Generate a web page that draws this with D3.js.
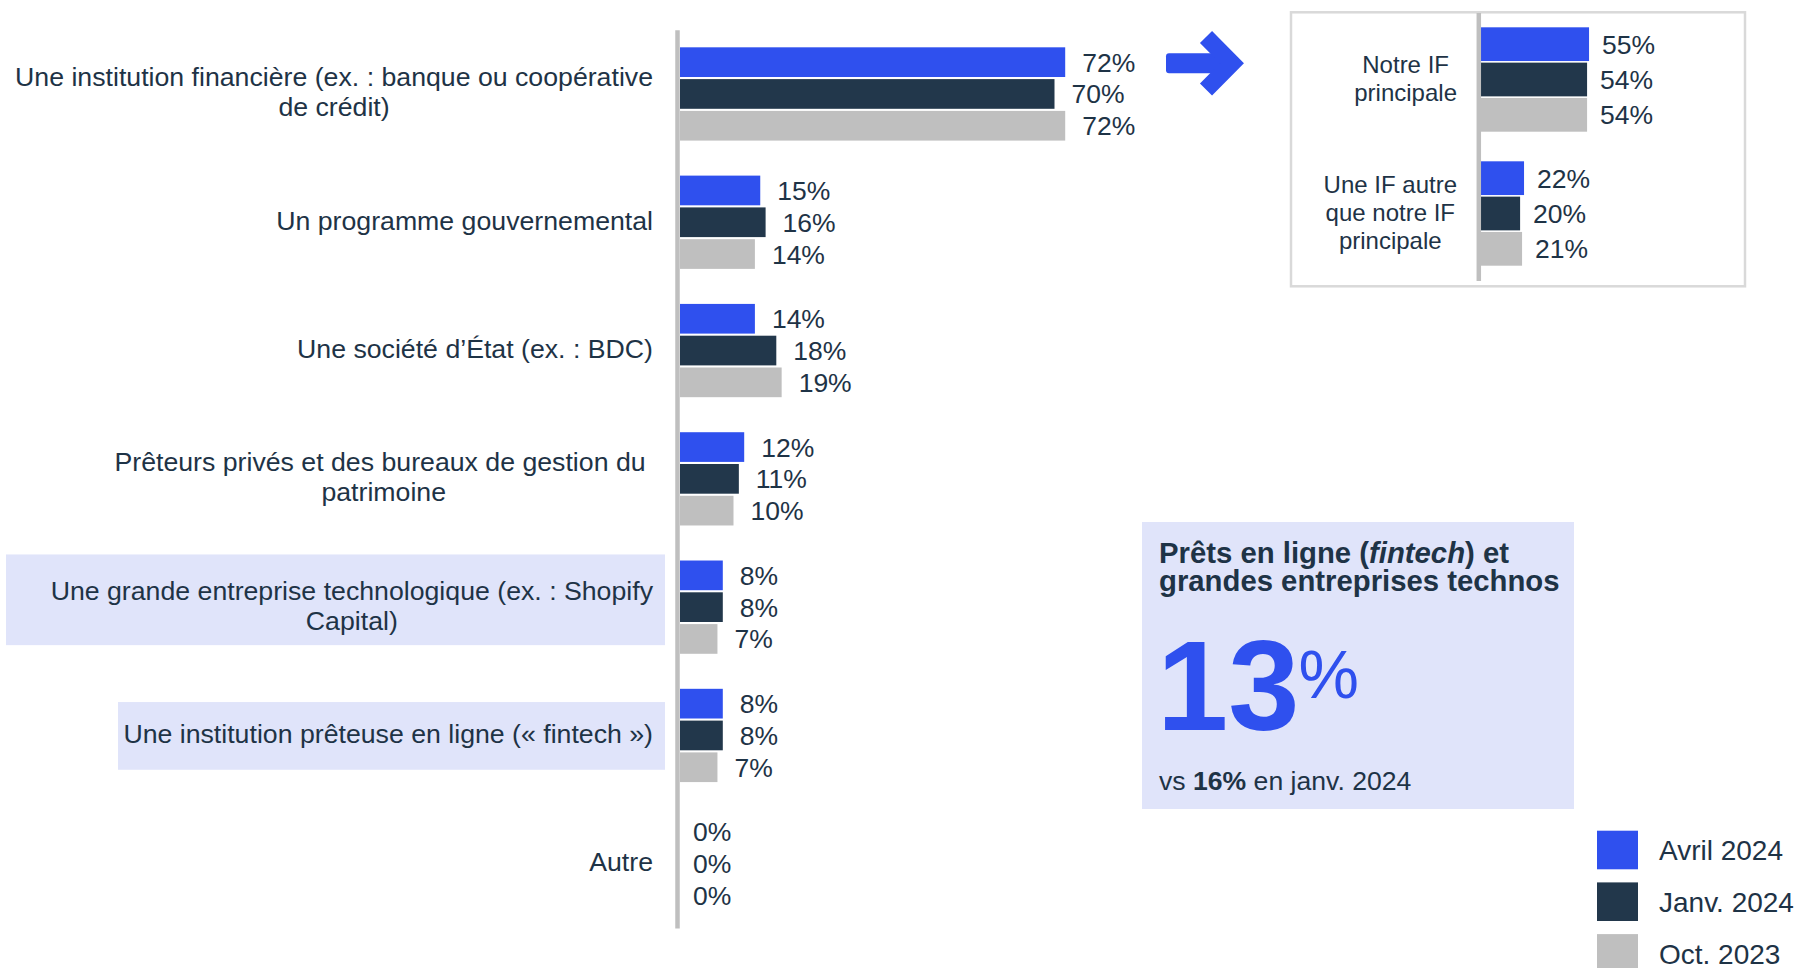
<!DOCTYPE html>
<html>
<head>
<meta charset="utf-8">
<script src="https://cdn.jsdelivr.net/npm/d3@7"></script>
<style>
  body { margin: 0; background: #fff; }
  svg { display: block; font-family: "Liberation Sans", Arial, sans-serif; }
  svg text { white-space: pre; }
</style>
</head>
<body>
<div id="chart"></div>
<script>
// data
const categories = [
  ["Une institution financière (ex. : banque ou coopérative", "de crédit)"],
  ["Un programme gouvernemental"],
  ["Une société d’État (ex. : BDC)"],
  ["Prêteurs privés et des bureaux de gestion du ", "patrimoine"],
  ["Une grande entreprise technologique (ex. : Shopify", "Capital)"],
  ["Une institution prêteuse en ligne (« fintech »)"],
  ["Autre"]
];
const seriesNames = ["Avril 2024", "Janv. 2024", "Oct. 2023"];
const avril2024 = [72, 15, 14, 12, 8, 8, 0];
const janv2024 = [70, 16, 18, 11, 8, 8, 0];
const oct2023 = [72, 14, 19, 10, 7, 7, 0];

const insetCategories = [["Notre IF", "principale"], ["Une IF autre", "que notre IF", "principale"]];
const insetAvril = [55, 22];
const insetJanv = [54, 20];
const insetOct = [54, 21];

const calloutTitle = ["Prêts en ligne (", "fintech", ") et", "grandes entreprises technos"];
const calloutValue = 13;
const calloutPrev = 16;
const calloutPrevLabel = "en janv. 2024";

const colors = ["#2f50ee", "#22374b", "#bfbfbf"];
const textColor = "#1e3346";
const lavender = "#e0e4fa";

const W = 1795, H = 968;
const svg = d3.select("#chart").append("svg").attr("width", W).attr("height", H);

const series = [avril2024, janv2024, oct2023];
const mainRows = categories.map((c, i) => ({ i, lines: c, vals: series.map((s, k) => ({ k, v: s[i] })) }));

// ---- main chart scales
const y0 = d3.scaleBand().domain(d3.range(categories.length))
  .range([29.8, 29.8 + 7 * 128.3]).paddingInner(0.273).paddingOuter(0.1365);
const y1 = d3.scaleBand().domain(d3.range(3)).range([0, y0.bandwidth()]).paddingInner(0.066);
const x = d3.scaleLinear().domain([0, 100]).range([680, 680 + 535]);

// highlight boxes behind two labels
const highlights = [
  { i: 4, left: 6, top: -52.7, bottom: 38 },
  { i: 5, left: 118, top: -33.4, bottom: 34.3 }
];
svg.append("g").selectAll("rect").data(highlights).enter().append("rect")
  .attr("x", d => d.left)
  .attr("y", d => y0(d.i) + y0.bandwidth() / 2 + d.top)
  .attr("width", d => 665 - d.left)
  .attr("height", d => d.bottom - d.top)
  .attr("fill", lavender);

const groups = svg.append("g").selectAll("g").data(mainRows).enter().append("g")
  .attr("transform", d => `translate(0,${y0(d.i)})`);

groups.selectAll("rect").data(d => d.vals).enter().append("rect")
  .attr("x", x(0))
  .attr("y", d => y1(d.k))
  .attr("width", d => x(d.v) - x(0))
  .attr("height", y1.bandwidth())
  .attr("fill", d => colors[d.k]);

groups.selectAll("text.val").data(d => d.vals).enter().append("text")
  .attr("class", "val")
  .attr("x", d => x(d.v) + (d.v > 0 ? 17 : 13))
  .attr("y", d => y1(d.k) + y1.bandwidth() / 2 + 9.5)
  .attr("font-size", 26.5)
  .attr("fill", textColor)
  .text(d => d.v + "%");

// category labels, lines centred on the longest line, right edge given
function multiLabel(sel, lines, right, cy, size, lh, off) {
  const t = sel.append("text").attr("font-size", size).attr("fill", textColor)
    .attr("text-anchor", "middle");
  const spans = lines.map((l, j) => t.append("tspan").text(l));
  const maxW = d3.max(spans, s => s.node().getComputedTextLength());
  const cx = right - maxW / 2;
  spans.forEach((s, j) => s.attr("x", cx).attr("y", cy + off - (lines.length - 1) * lh / 2 + j * lh));
}
mainRows.forEach(d => multiLabel(svg, d.lines, 653, y0(d.i) + y0.bandwidth() / 2, 26.7, 30, 7.5));

// axis line
const axisG = svg.append("g").attr("transform", "translate(677,0)")
  .call(d3.axisLeft(y0).tickValues([]).tickSizeOuter(0));
axisG.select(".domain").attr("stroke", "#bfbfbf").attr("stroke-width", 4.5);

// ---- arrow
const arrow = svg.append("g").attr("fill", colors[0]);
arrow.append("rect").attr("x", 1166).attr("y", 53.3).attr("width", 58).attr("height", 20).attr("rx", 3);
arrow.append("path").attr("d", "M1206,37L1232,63.3L1206,89.6")
  .attr("fill", "none").attr("stroke", colors[0]).attr("stroke-width", 17)
  .attr("stroke-linejoin", "miter").attr("stroke-linecap", "butt");

// ---- inset
svg.append("rect").attr("x", 1291).attr("y", 12.3).attr("width", 454).attr("height", 274)
  .attr("fill", "#fff").attr("stroke", "#d9d9d9").attr("stroke-width", 2.5);

const insetSeries = [insetAvril, insetJanv, insetOct];
const insetRows = insetCategories.map((c, i) => ({ i, lines: c, vals: insetSeries.map((s, k) => ({ k, v: s[i] })) }));
const yi0 = d3.scaleBand().domain([0, 1]).range([12.5, 280.5]).paddingInner(0.221).paddingOuter(0.1105);
const yi1 = d3.scaleBand().domain(d3.range(3)).range([0, yi0.bandwidth()]).paddingInner(0.045);
const xi = d3.scaleLinear().domain([0, 100]).range([1480.7, 1480.7 + 197]);

const ig = svg.append("g").selectAll("g").data(insetRows).enter().append("g")
  .attr("transform", d => `translate(0,${yi0(d.i)})`);
ig.selectAll("rect").data(d => d.vals).enter().append("rect")
  .attr("x", xi(0))
  .attr("y", d => yi1(d.k))
  .attr("width", d => xi(d.v) - xi(0))
  .attr("height", yi1.bandwidth())
  .attr("fill", d => colors[d.k]);
ig.selectAll("text").data(d => d.vals).enter().append("text")
  .attr("x", d => xi(d.v) + 13)
  .attr("y", d => yi1(d.k) + yi1.bandwidth() / 2 + 9.5)
  .attr("font-size", 26.5)
  .attr("fill", textColor)
  .text(d => d.v + "%");
insetRows.forEach(d => multiLabel(svg, d.lines, 1457, yi0(d.i) + yi0.bandwidth() / 2, 24, 28, 7.5));

const insetAxis = svg.append("g").attr("transform", "translate(1478.3,0)")
  .call(d3.axisLeft(yi0).tickValues([]).tickSizeOuter(0));
insetAxis.select(".domain").attr("stroke", "#bfbfbf").attr("stroke-width", 4.5);

// ---- callout box
svg.append("rect").attr("x", 1142).attr("y", 522).attr("width", 432).attr("height", 287).attr("fill", lavender);
const title = svg.append("text").attr("font-size", 29.3).attr("font-weight", "bold").attr("fill", textColor);
title.append("tspan").attr("x", 1159).attr("y", 563).text(calloutTitle[0]);
title.append("tspan").attr("font-style", "italic").text(calloutTitle[1]);
title.append("tspan").text(calloutTitle[2]);
title.append("tspan").attr("x", 1159).attr("y", 591).text(calloutTitle[3]);

const big = svg.append("text").attr("x", 1157).attr("y", 730).attr("font-size", 128)
  .attr("font-weight", "bold").attr("fill", colors[0]).text(calloutValue);
const bigW = big.node().getComputedTextLength();
svg.append("text").attr("x", 1157 + bigW - 1).attr("y", 698).attr("font-size", 68)
  .attr("fill", colors[0]).text("%");

const prev = svg.append("text").attr("x", 1159).attr("y", 790).attr("font-size", 26.6).attr("fill", textColor);
prev.append("tspan").text("vs ");
prev.append("tspan").attr("font-weight", "bold").text(calloutPrev + "%");
prev.append("tspan").text(" " + calloutPrevLabel);

// ---- legend
const legend = svg.append("g").selectAll("g").data(seriesNames).enter().append("g")
  .attr("transform", (d, i) => `translate(1597,${830.7 + i * 51.7})`);
legend.append("rect").attr("width", 41).attr("height", 38.6).attr("fill", (d, i) => colors[i]);
legend.append("text").attr("x", 62).attr("y", 29.5).attr("font-size", 28).attr("fill", textColor).text(d => d);
</script>
</body>
</html>
